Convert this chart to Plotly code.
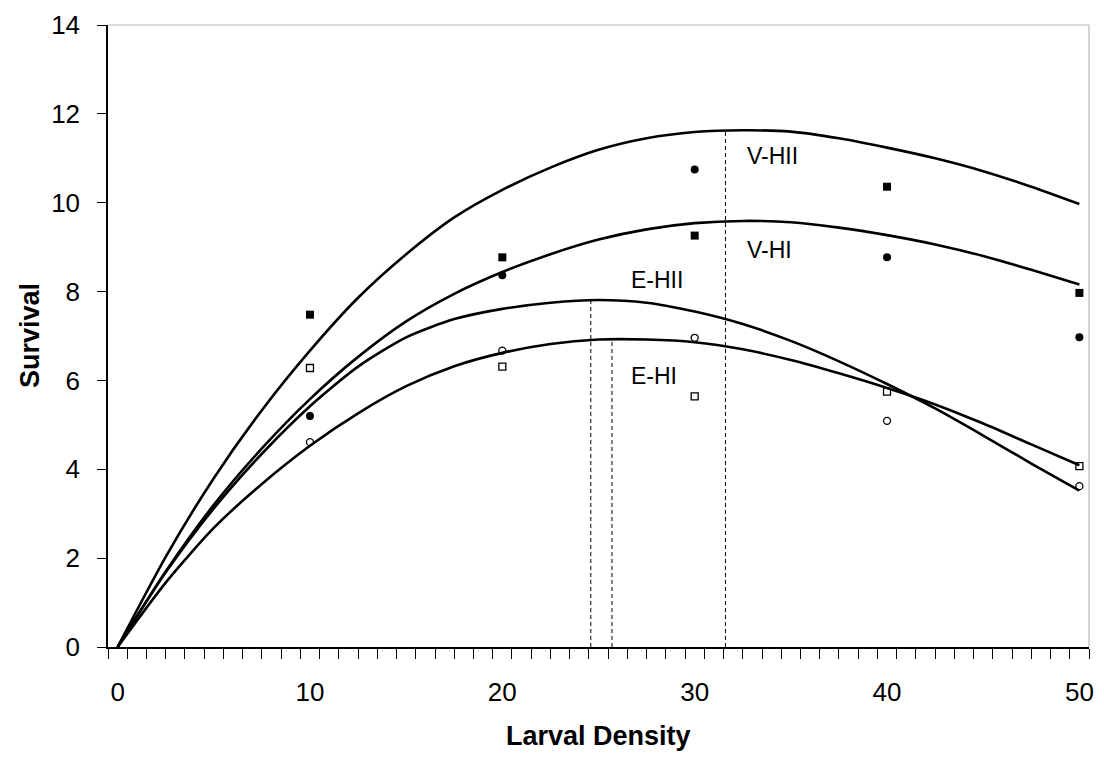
import plotly.graph_objects as go

# ---- data ----
density = [10, 20, 30, 40, 50]
filled_squares = [7.48, 8.77, 9.26, 10.36, 7.97]
filled_circles = [5.20, 8.37, 10.75, 8.77, 6.97]
open_circles = [4.61, 6.67, 6.96, 5.09, 3.62]
open_squares = [6.28, 6.31, 5.64, 5.75, 4.07]

fit_x = [0, 2.5, 5, 7.5, 10, 12.5, 15, 17.5, 20, 22.5, 25, 27.5, 30,
         32.5, 35, 37.5, 40, 42.5, 45, 47.5, 50]
fit_vhii = [0, 2.03, 3.80, 5.33, 6.67, 7.86, 8.84, 9.67, 10.29, 10.79, 11.19,
            11.45, 11.59, 11.63, 11.60, 11.45, 11.24, 11.00, 10.71, 10.36, 9.97]
fit_vhi = [0, 1.70, 3.20, 4.47, 5.58, 6.53, 7.33, 7.95, 8.44, 8.84, 9.17,
           9.40, 9.54, 9.59, 9.56, 9.44, 9.27, 9.06, 8.80, 8.49, 8.16]
fit_ehii = [0, 1.68, 3.12, 4.35, 5.42, 6.31, 6.97, 7.38, 7.61, 7.75, 7.81,
            7.75, 7.55, 7.27, 6.89, 6.43, 5.92, 5.37, 4.76, 4.13, 3.52]
fit_ehi = [0, 1.45, 2.68, 3.67, 4.53, 5.26, 5.87, 6.32, 6.62, 6.82, 6.92,
           6.92, 6.86, 6.70, 6.46, 6.16, 5.83, 5.46, 5.03, 4.56, 4.09]

peak_x = [24.6, 25.7, 31.6]
peak_y = [7.81, 6.92, 11.63]

curve_labels = ["V-HII", "V-HI", "E-HII", "E-HI"]
label_x = [32.6, 32.6, 26.6, 26.6]
label_y = [11.05, 8.94, 8.27, 6.11]

x_ticks = [0, 10, 20, 30, 40, 50]
y_ticks = [0, 2, 4, 6, 8, 10, 12, 14]

FONT = "Liberation Sans, Arial, sans-serif"

fig = go.Figure()

for ys in [fit_vhii, fit_vhi, fit_ehii, fit_ehi]:
    fig.add_trace(go.Scatter(x=fit_x, y=ys, mode="lines",
                             line=dict(color="black", width=2.6, shape="spline", smoothing=0.7),
                             showlegend=False, hoverinfo="skip"))

for px, py in zip(peak_x, peak_y):
    fig.add_trace(go.Scatter(x=[px, px], y=[0, py], mode="lines",
                             line=dict(color="black", width=1, dash="4px,3px"),
                             showlegend=False, hoverinfo="skip"))

fig.add_trace(go.Scatter(x=density, y=filled_squares, mode="markers",
                         marker=dict(symbol="square", size=8, color="black"), showlegend=False))
fig.add_trace(go.Scatter(x=density, y=filled_circles, mode="markers",
                         marker=dict(symbol="circle", size=8, color="black"), showlegend=False))
fig.add_trace(go.Scatter(x=density, y=open_circles, mode="markers",
                         marker=dict(symbol="circle-open", size=7, color="black",
                                     line=dict(width=1.3, color="black")), showlegend=False))
fig.add_trace(go.Scatter(x=density, y=open_squares, mode="markers",
                         marker=dict(symbol="square-open", size=7, color="black",
                                     line=dict(width=1.3, color="black")), showlegend=False))

for t, lx, ly in zip(curve_labels, label_x, label_y):
    fig.add_annotation(x=lx, y=ly, text=t, showarrow=False, xanchor="left", yanchor="middle",
                       font=dict(family=FONT, size=23, color="black"))

# axis titles
fig.add_annotation(xref="paper", yref="paper", x=0.5, y=0, yshift=-89,
                   text="<b>Larval Density</b>", showarrow=False,
                   xanchor="center", yanchor="middle",
                   font=dict(family=FONT, size=27, color="black"))
fig.add_annotation(xref="paper", yref="paper", x=0, y=0.5, xshift=-78,
                   text="<b>Survival</b>", showarrow=False, textangle=-90,
                   xanchor="center", yanchor="middle",
                   font=dict(family=FONT, size=27, color="black"))

# light grey frame on top and right
fig.add_shape(type="line", xref="paper", yref="paper", x0=0, x1=1, y0=1, y1=1,
              line=dict(color="#b8b8b8", width=1.2))
fig.add_shape(type="line", xref="paper", yref="paper", x0=1, x1=1, y0=0, y1=1,
              line=dict(color="#b8b8b8", width=1.2))

fig.update_layout(
    width=1104, height=758,
    margin=dict(l=108, r=10, t=23, b=111),
    paper_bgcolor="white", plot_bgcolor="white",
    font=dict(family=FONT, size=26, color="black"),
    xaxis=dict(range=[-0.5, 50.5], tickvals=x_ticks, ticktext=[str(v) for v in x_ticks],
               ticks="", showgrid=False, zeroline=False,
               showline=True, linecolor="black", linewidth=1.5,
               ticklabelstandoff=21,
               tickfont=dict(family=FONT, size=26, color="black"),
               minor=dict(ticks="outside", tick0=-0.5, dtick=1, ticklen=10,
                          tickcolor="black", tickwidth=1.3, showgrid=False)),
    yaxis=dict(range=[0, 14], tickvals=y_ticks, ticks="outside", ticklen=9,
               tickcolor="black", tickwidth=1.3, showgrid=False, zeroline=False,
               showline=True, linecolor="black", linewidth=1.5,
               ticklabelstandoff=12,
               tickfont=dict(family=FONT, size=26, color="black")),
)

fig.write_html("out.html")
